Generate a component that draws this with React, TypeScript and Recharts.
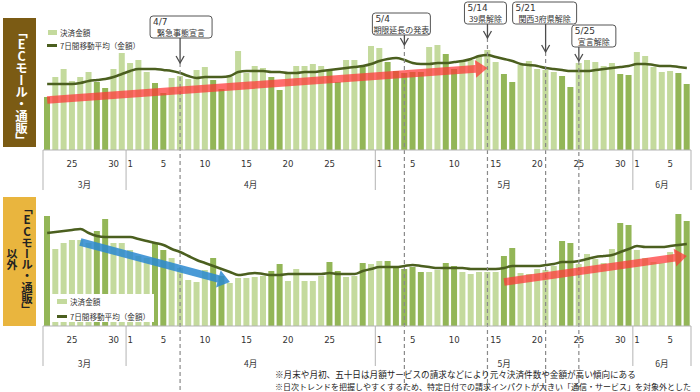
import React from "react";
import { ComposedChart, Bar, Line, XAxis, YAxis, ReferenceLine, Cell } from "recharts";

const dates = [
  "3/22", "3/23", "3/24", "3/25", "3/26", "3/27", "3/28", "3/29", "3/30", "3/31",
  "4/1", "4/2", "4/3", "4/4", "4/5", "4/6", "4/7", "4/8", "4/9", "4/10",
  "4/11", "4/12", "4/13", "4/14", "4/15", "4/16", "4/17", "4/18", "4/19", "4/20",
  "4/21", "4/22", "4/23", "4/24", "4/25", "4/26", "4/27", "4/28", "4/29", "4/30",
  "5/1", "5/2", "5/3", "5/4", "5/5", "5/6", "5/7", "5/8", "5/9", "5/10",
  "5/11", "5/12", "5/13", "5/14", "5/15", "5/16", "5/17", "5/18", "5/19", "5/20",
  "5/21", "5/22", "5/23", "5/24", "5/25", "5/26", "5/27", "5/28", "5/29", "5/30",
  "5/31", "6/1", "6/2", "6/3", "6/4", "6/5", "6/6", "6/7",
];

// weekends and holidays (darker bars)
const offDays = [
  "3/22", "3/28", "3/29", "4/4", "4/5", "4/11", "4/12", "4/18", "4/19", "4/25", "4/26", "4/29",
  "5/2", "5/3", "5/4", "5/5", "5/6", "5/9", "5/10", "5/16", "5/17", "5/23", "5/24", "5/30", "5/31",
  "6/6", "6/7",
];

const months = ["3月", "4月", "5月", "6月"];
// dates that get a day-number label on the axis
const tickDates = [
  "3/25", "3/30", "4/1", "4/5", "4/10", "4/15", "4/20", "4/25",
  "5/1", "5/5", "5/10", "5/15", "5/20", "5/25", "5/30", "6/1", "6/5",
];
const yTicks = [0, 15, 30, 45, 60, 75, 90, 105, 120];

const ecAmount = [
  53, 73, 81, 69, 73, 78, 68, 62, 81, 97,
  87, 90, 78, 67, 57, 72, 74, 71, 80, 83,
  70, 61, 73, 99, 77, 84, 82, 73, 60, 78,
  84, 84, 86, 84, 79, 68, 90, 90, 83, 104,
  102, 88, 79, 77, 78, 78, 103, 105, 96, 81,
  90, 90, 93, 100, 88, 76, 68, 85, 89, 81,
  80, 78, 74, 63, 87, 90, 88, 84, 87, 76,
  75, 98, 94, 83, 78, 79, 77, 66,
];
const ecAverage = [
  66, 66, 66, 66, 67, 69, 70, 71, 73, 76,
  79, 81, 81, 81, 80, 79, 77, 74, 72, 73,
  73, 73, 74, 78, 79, 79, 79, 78, 78, 77,
  77, 78, 78, 79, 80, 81, 82, 83, 84, 86,
  89, 91, 92, 90, 87, 86, 86, 87, 87, 88,
  89, 91, 94, 95, 93, 91, 89, 86, 85, 84,
  82, 81, 80, 79, 79, 79, 80, 81, 82, 83,
  84, 86, 86, 85, 84, 84, 83, 82,
];
const otherAmount = [
  110, 77, 83, 86, 86, 83, 95, 107, 83, 83,
  76, 70, 68, 83, 76, 68, 58, 46, 44, 56,
  68, 50, 43, 48, 48, 49, 50, 55, 62, 45,
  57, 45, 45, 50, 64, 55, 49, 50, 63, 62,
  65, 65, 58, 57, 59, 54, 54, 56, 63, 60,
  54, 52, 54, 54, 54, 70, 78, 53, 52, 57,
  56, 60, 85, 83, 62, 72, 67, 63, 77, 103,
  101, 76, 68, 64, 63, 74, 112, 105,
];
const otherAverage = [
  93, 94, 95, 96, 97, 93, 90, 89, 89, 89,
  89, 87, 85, 83, 81, 77, 74, 70, 66, 63,
  60, 57, 54, 51, 52, 53, 52, 51, 51, 52,
  52, 52, 52, 52, 53, 52, 52, 52, 55, 57,
  59, 59, 59, 60, 61, 60, 59, 58, 58, 58,
  58, 57, 57, 57, 57, 58, 60, 60, 60, 60,
  61, 62, 64, 64, 65, 67, 69, 70, 71, 74,
  77, 80, 79, 79, 79, 80, 81, 82,
];

const events = [
  { date: "4/7", title: "4/7", text: "緊急事態宣言", tip: 87 },
  { date: "5/4", title: "5/4", text: "期限延長の発表", tip: 105 },
  { date: "5/14", title: "5/14", text: "39県解除", tip: 112 },
  { date: "5/21", title: "5/21", text: "関西3府県解除", tip: 98 },
  { date: "5/25", title: "5/25", text: "宣言解除", tip: 89 },
];
// callout box placement (px)
const calloutBox: Record<string, { top: number; w: number; dx: number }> = {
  "4/7": { top: 16, w: 62, dx: 1 },
  "5/4": { top: 13, w: 58, dx: -3 },
  "5/14": { top: 2, w: 42, dx: -2 },
  "5/21": { top: 2, w: 64, dx: -1 },
  "5/25": { top: 25, w: 44, dx: 15 },
};

const topData = dates.map((date, i) => ({ date, amount: ecAmount[i], average: ecAverage[i] }));
const bottomData = dates.map((date, i) => ({ date, amount: otherAmount[i], average: otherAverage[i] }));

const FONT = '"Noto Sans CJK JP", "Noto Sans", sans-serif';
const LATIN = '"DejaVu Sans", Verdana, sans-serif';
const LIGHT = "#c4da9d";
const DARK = "#93b657";
const AVG = "#4b5f1f";
const AXIS = "#b3b3b3";
const LEFT = 43;
const RIGHT = 9;
const BAND = (700 - LEFT - RIGHT) / dates.length;
const monthKeys = Array.from(new Set(dates.map((s) => s.split("/")[0])));

function makeTick(dayDy: number, monthDy: number) {
  return (props: any) => {
    const { x, y, payload } = props;
    const value = String(payload.value);
    const i = dates.indexOf(value);
    const [m, d] = value.split("/");
    const first = i === 0 || d === "1";
    const last = i === dates.length - 1;
    const count = dates.filter((s) => s.split("/")[0] === m).length;
    return (
      <g>
        {tickDates.includes(value) && (
          <text x={x} y={y + dayDy} textAnchor="middle" fontSize={8.6} fill="#333" fontFamily={LATIN}>
            {d}
          </text>
        )}
        {first && <line x1={x - BAND / 2} x2={x - BAND / 2} y1={y} y2={y + 40} stroke={AXIS} />}
        {first && (
          <text x={x - BAND / 2 + (count * BAND) / 2} y={y + monthDy} textAnchor="middle" fontSize={8.6} fill="#333" fontFamily={FONT}>
            {months[monthKeys.indexOf(m)]}
          </text>
        )}
        {last && <line x1={x + BAND / 2} x2={x + BAND / 2} y1={y} y2={y + 40} stroke={AXIS} />}
      </g>
    );
  };
}

function calloutShape(ev: (typeof events)[number]) {
  return (p: any) => {
    const x = p.x1;
    const tip = Math.min(p.y1, p.y2);
    const bottom = Math.max(p.y1, p.y2);
    const box = calloutBox[ev.date];
    const h = 22;
    const bx = x + box.dx - box.w / 2;
    return (
      <g>
        <line x1={x} x2={x} y1={tip} y2={bottom} stroke="#8a8a8a" strokeWidth={1.2} strokeDasharray="4 3" />
        <line x1={x} x2={x} y1={box.top + h} y2={tip} stroke="#4d4d4d" strokeWidth={1.3} />
        <polyline points={`${x - 4},${tip - 7} ${x},${tip} ${x + 4},${tip - 7}`} fill="none" stroke="#4d4d4d" strokeWidth={1.3} />
        <rect x={bx} y={box.top} width={box.w} height={h} rx={3} fill="#fff" stroke="#555" />
        <text x={bx + 3} y={box.top + 8.6} fontSize={9} fill="#333" fontFamily={LATIN}>
          {ev.title}
        </text>
        <text x={bx + box.w / 2} y={box.top + 19.6} textAnchor="middle" fontSize={8} fill="#333" fontFamily={FONT}>
          {ev.text}
        </text>
      </g>
    );
  };
}

function arrowShape(fill: string, opacity: number) {
  return (p: any) => {
    const { x1, y1, x2, y2 } = p;
    const len = Math.hypot(x2 - x1, y2 - y1);
    const ux = (x2 - x1) / len;
    const uy = (y2 - y1) / len;
    const nx = -uy;
    const ny = ux;
    const shaft = 3.8;
    const head = 9;
    const headLen = 12;
    const bx = x2 - ux * headLen;
    const by = y2 - uy * headLen;
    const pts = [
      [x1 + nx * shaft, y1 + ny * shaft],
      [bx + nx * shaft, by + ny * shaft],
      [bx + nx * head, by + ny * head],
      [x2, y2],
      [bx - nx * head, by - ny * head],
      [bx - nx * shaft, by - ny * shaft],
      [x1 - nx * shaft, y1 - ny * shaft],
    ];
    return <polygon points={pts.map((q) => q.join(",")).join(" ")} fill={fill} fillOpacity={opacity} />;
  };
}

function Panel({ data, height, top, xHeight, dayDy, monthDy, children }: any) {
  return (
    <ComposedChart
      width={700}
      height={height}
      data={data}
      margin={{ top, right: RIGHT, bottom: 0, left: LEFT }}
      style={{ position: "absolute", left: 0, top: 0 }}
    >
      <XAxis
        dataKey="date"
        interval={0}
        height={xHeight}
        tickSize={0}
        tickMargin={0}
        tickLine={false}
        axisLine={{ stroke: AXIS }}
        tick={makeTick(dayDy, monthDy)}
      />
      <YAxis
        width={0}
        domain={[0, 120]}
        ticks={yTicks}
        tickSize={4}
        tickFormatter={() => ""}
        axisLine={{ stroke: AXIS }}
        tickLine={{ stroke: AXIS }}
      />
      <Bar dataKey="amount" barSize={6} isAnimationActive={false}>
        {data.map((row: any) => (
          <Cell key={row.date} fill={offDays.includes(row.date) ? DARK : LIGHT} />
        ))}
      </Bar>
      <Line dataKey="average" type="monotone" stroke={AVG} strokeWidth={2.5} dot={false} isAnimationActive={false} />
      {children}
    </ComposedChart>
  );
}

const sideText: React.CSSProperties = {
  position: "absolute",
  writingMode: "vertical-rl",
  textOrientation: "upright",
  fontFamily: FONT,
  fontWeight: 700,
  whiteSpace: "nowrap",
};

export default function App() {
  return (
    <div style={{ position: "relative", width: 700, height: 392, overflow: "hidden", background: "#fff", fontFamily: FONT }}>
      <style>{`body{margin:0}`}</style>

      <div style={{ position: "absolute", left: 0, top: 0, width: 700, height: 192 }}>
        <Panel data={topData} height={192} top={30} xHeight={42} dayDy={16.5} monthDy={37.5}>
          {events.map((ev) => (
            <ReferenceLine
              key={ev.date}
              segment={[{ x: ev.date, y: ev.tip }, { x: ev.date, y: -42 }]}
              ifOverflow="visible"
              shape={calloutShape(ev)}
            />
          ))}
          <ReferenceLine
            segment={[{ x: "3/22", y: 50 }, { x: "5/14", y: 82 }]}
            ifOverflow="visible"
            shape={arrowShape("#ff3535", 0.72)}
          />
        </Panel>
      </div>

      <div style={{ position: "absolute", left: 0, top: 190, width: 700, height: 202 }}>
        <Panel data={bottomData} height={202} top={16} xHeight={66} dayDy={16.5} monthDy={40.5}>
          {events.map((ev) => (
            <ReferenceLine
              key={ev.date}
              segment={[{ x: ev.date, y: 136 }, { x: ev.date, y: -66 }]}
              ifOverflow="visible"
              stroke="#8a8a8a"
              strokeWidth={1.2}
              strokeDasharray="4 3"
            />
          ))}
          <ReferenceLine
            segment={[{ x: "3/26", y: 84 }, { x: "4/13", y: 44 }]}
            ifOverflow="visible"
            shape={arrowShape("#2a88d0", 0.85)}
          />
          <ReferenceLine
            segment={[{ x: "5/16", y: 44 }, { x: "6/7", y: 70 }]}
            ifOverflow="visible"
            shape={arrowShape("#ff3535", 0.72)}
          />
        </Panel>
      </div>

      {/* top legend */}
      <div style={{ position: "absolute", left: 47, top: 26, fontSize: 7.6, color: "#333", lineHeight: "13px" }}>
        <div style={{ display: "flex", alignItems: "center" }}>
          <span style={{ display: "inline-block", width: 9, height: 5, background: LIGHT, marginLeft: 1, marginRight: 3 }} />
          決済金額
        </div>
        <div style={{ display: "flex", alignItems: "center" }}>
          <span style={{ display: "inline-block", width: 10, height: 2.5, background: AVG, marginRight: 3 }} />
          7日間移動平均（金額）
        </div>
      </div>

      {/* bottom legend */}
      <div
        style={{
          position: "absolute",
          left: 50,
          top: 294,
          width: 104,
          height: 28,
          background: "#fff",
          fontSize: 7.6,
          color: "#333",
          lineHeight: "13px",
          paddingLeft: 7,
          paddingTop: 1,
          boxSizing: "border-box",
        }}
      >
        <div style={{ display: "flex", alignItems: "center" }}>
          <span style={{ display: "inline-block", width: 10, height: 5, background: LIGHT, marginRight: 3 }} />
          決済金額
        </div>
        <div style={{ display: "flex", alignItems: "center", marginTop: 2 }}>
          <span style={{ display: "inline-block", width: 10, height: 2.5, background: AVG, marginRight: 3 }} />
          7日間移動平均（金額）
        </div>
      </div>

      {/* side labels */}
      <div style={{ position: "absolute", left: 3, top: 18, width: 33, height: 129, background: "#7b5b14" }} />
      <div style={{ ...sideText, left: 12, top: 26, fontSize: 12.5, letterSpacing: -0.5, color: "#fff" }}>「ECモール・通販」</div>

      <div style={{ position: "absolute", left: 3, top: 197, width: 33, height: 129, background: "#e9b53e" }} />
      <div style={{ ...sideText, left: 19, top: 203, fontSize: 11.5, letterSpacing: -0.3, color: "#222" }}>「ECモール・通販」</div>
      <div style={{ ...sideText, left: 4, top: 248, fontSize: 11, color: "#222" }}>以外</div>

      {/* footnotes */}
      <div style={{ position: "absolute", left: 275, top: 368, fontSize: 8.6, color: "#222", whiteSpace: "nowrap", lineHeight: "12px" }}>
        ※月末や月初、五十日は月額サービスの請求などにより元々決済件数や金額が高い傾向にある
      </div>
      <div style={{ position: "absolute", left: 275, top: 381, fontSize: 8, color: "#222", whiteSpace: "nowrap", lineHeight: "12px" }}>
        ※日次トレンドを把握しやすくするため、特定日付での請求インパクトが大きい「通信・サービス」を対象外とした
      </div>
    </div>
  );
}
